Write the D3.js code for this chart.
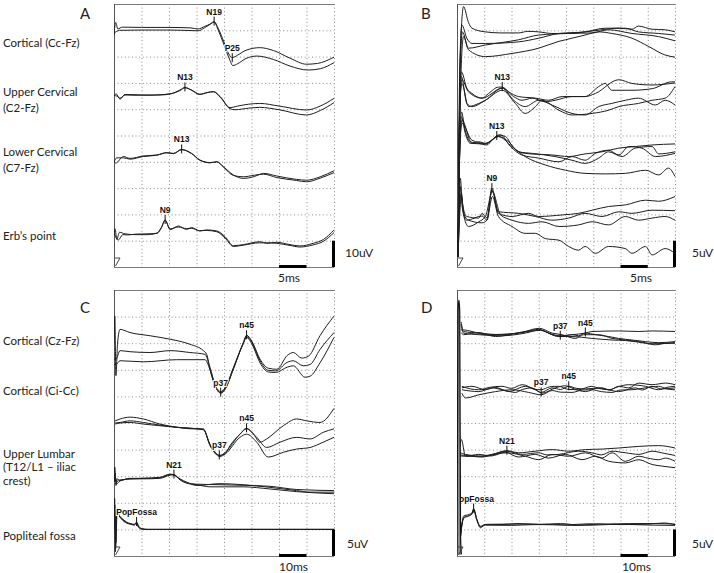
<!DOCTYPE html>
<html><head><meta charset="utf-8">
<script src="https://cdn.jsdelivr.net/npm/d3@7"></script>
<style>body{margin:0;background:#fff}</style>
</head><body>
<svg id="c" width="714" height="573"></svg>
<script>
// ===== DATA (time in ms, amplitude in uV within panel scale) =====
const A_labels = [["Cortical (Cc-Fz)"],["Upper Cervical","(C2-Fz)"],["Lower Cervical","(C7-Fz)"],["Erb’s point"]];
const A_cortical = [
 [[0,88],[0.3,93],[0.7,90.5],[1.5,91.2],[5,91.1],[10,91.1],[14,90.9],[15.3,90.5],[16.5,91.5],[17.5,92.4],[18.2,93.3],[19,90.5],[20,85.5],[21,80.5],[21.5,79.6],[22.5,80.6],[24,82.4],[26.5,83.4],[29,82.3],[32,79.4],[35,77.1],[37,77.4],[40,79.8]],
 [[0,89],[0.4,89.5],[1,90],[5,90.1],[10,90.1],[14,89.9],[15.3,89.8],[16.5,91],[17.5,92.3],[18.2,93.1],[19,89.8],[20,84.5],[21,79],[21.6,76.6],[22.5,77.3],[24,79.3],[26,80.2],[29,78.9],[32,76.4],[35.3,74.9],[37.5,75.4],[40,77.7]]
];
const A_upperCerv = [
 [[0,65],[0.4,65.8],[1.1,63.8],[2,65.6],[4,65.5],[6,65.3],[8.4,65.5],[10.5,66.0],[12,67.3],[12.9,68.3],[14.1,67.2],[15.6,65.6],[17,66.3],[18.1,66.7],[19.3,64.8],[21.1,60.6],[22.5,61.2],[24.5,61.9],[26.5,62.2],[30,61.2],[35,59.7],[37.5,61.2],[40,64.1]],
 [[0,65.2],[0.5,65],[1.1,64.2],[2,65.4],[4,65.3],[6,65.4],[8.4,65.4],[10.5,65.9],[12,67.1],[12.9,68.1],[14.1,67.3],[15.6,65.7],[17,66.4],[18.1,66.6],[19.3,64.6],[21.1,60.2],[22,59.8],[24.5,60.4],[26.5,60.7],[30,59.8],[35,57.8],[37.5,59.5],[40,62.5]]
];
const A_lowerCerv = [
 [[0,40.5],[0.3,39.5],[1.7,42.0],[2.9,41.3],[5.3,42.2],[7.8,42.6],[9.6,43.5],[10.8,43.2],[12.3,44.7],[14.1,43.2],[15.6,40.7],[17.5,39.7],[18.7,40.0],[19.9,38.1],[21.7,35.0],[23.5,33.7],[25.5,34.4],[26.5,35.2],[27.2,35.6],[29.6,34.6],[33.2,33.3],[35,33.0],[37.5,34.3],[40,36.6]],
 [[0,39.8],[0.5,41.5],[1.7,41.5],[2.9,41.0],[5.3,42.0],[7.8,42.5],[9.6,43.4],[10.8,43.1],[12.3,44.6],[14.1,43.1],[15.6,40.6],[17.5,39.6],[18.7,40.0],[19.9,38.0],[21.7,34.8],[23.5,34.3],[25.5,34.9],[26.5,35.2],[27.2,35.3],[29.6,34.0],[33.2,32.9],[35,32.4],[37.5,33.8],[40,35.9]]
];
const A_erb = [
 [[0,12.5],[0.2,14.5],[0.5,10.5],[1,13.2],[2,12.6],[4,12.3],[6,12.3],[7.8,12.9],[8.6,15.0],[9.3,17.9],[10.2,14.2],[11.7,15.6],[13.2,14.3],[14.1,15.0],[15.6,13.7],[16.8,14.1],[18.7,13.7],[20.2,11.5],[21.7,8.1],[23.5,8.5],[26.5,9.6],[27.8,9.0],[29.6,9.4],[32,8.5],[33.8,8.0],[36.2,9.0],[38.1,10.5],[40,14.1]],
 [[0,13],[0.3,11.5],[0.8,10.3],[1.6,12.3],[2.5,12.2],[4,12.5],[6,12.6],[7.8,12.8],[8.6,14.8],[9.3,17.7],[10.2,14.5],[11.7,15.2],[13.2,14.6],[14.1,14.7],[15.6,13.8],[16.8,13.9],[18.7,13.4],[20.2,11.0],[21.7,7.8],[23.5,8.3],[26.5,9.2],[27.8,9.2],[29.6,9.0],[32,8.2],[33.8,7.6],[36.2,8.4],[38.1,9.8],[40,13.1]]
];
const A_markers = [["N19",18.2,93.3],["P25",21.5,79.4],["N13",12.9,68.3],["N13",12.3,44.7],["N9",9.3,17.9]];

const B_ch1 = [
 [[0.2,2],[0.6,40],[1.2,49.5],[2.1,46.5],[2.75,45.4],[5.2,44.7],[8,44.5],[11.3,44.5],[13,44.8],[15,44.7],[17.4,44.4],[19.9,44.4],[23.5,44.7],[26.6,45.1],[29.7,45.4],[32.1,45.2],[33.3,45.8],[35.8,45.2],[38.2,45.1],[40,44.7]],
 [[0.2,2],[0.5,38],[0.9,46.0],[1.8,43.5],[2.75,42.5],[5.2,42.5],[11.3,42.8],[15,43.5],[18.7,44.4],[23.5,44.7],[27.2,45.4],[30.9,45.4],[33.3,44.7],[37,44.4],[40,44.1]],
 [[0.2,2],[0.6,38],[1.0,44.7],[2.1,41.6],[5.2,42.2],[11.3,43.2],[15,44.1],[20.5,44.4],[24.8,44.5],[27.8,45.1],[32.1,44.4],[37,43.8],[40,43.0]],
 [[0.2,2],[0.7,36],[1.2,43.8],[2.1,41.3],[5.2,40.0],[10.1,40.6],[15,41.6],[18.7,42.9],[19.9,43.2],[23.5,44.1],[26,44.7],[28.4,44.4],[32.1,43.5],[35.2,41.9],[38.2,40.3],[40,39.9]]
];
const B_ch2 = [
 [[0.2,2],[0.5,30],[0.8,37.1],[1.8,34.0],[2.75,33.0],[4.6,32.1],[5.8,33.0],[7.6,34.2],[8.3,34.2],[9.5,33.3],[11.3,32.4],[14.4,32.1],[16.8,31.7],[19.3,32.4],[23.5,32.4],[26,34.3],[27.2,34.9],[28.4,33.6],[32.1,33.6],[35.8,33.9],[39.4,35.2],[40,35.2]],
 [[0.2,2],[0.5,30],[0.8,36.2],[1.8,31.1],[2.75,30.5],[5.2,31.7],[8.3,34.0],[10.4,32.4],[11.9,31.7],[13.8,32.1],[16.2,31.4],[18,31.7],[21.1,32.4],[23.5,32.4],[25.4,33.0],[29.7,35.6],[32.1,34.9],[35.8,34.6],[40,35.0]],
 [[0.2,2],[0.5,30],[0.9,35.6],[2.1,33.3],[4.6,32.1],[8.3,34.0],[10.4,31.7],[12.5,30.5],[15,31.7],[17.4,30.8],[21.1,29.2],[23.5,28.9],[26,30.5],[28.4,31.1],[30.9,31.7],[33.3,32.1],[36.4,30.8],[38.2,31.7],[40,30.8]],
 [[0.2,2],[0.5,30],[0.9,34.9],[2.1,30.5],[4,31.1],[5.2,31.7],[8.3,33.6],[10.7,31.1],[12.5,29.2],[14.4,30.5],[15.6,31.7],[18.7,29.8],[21.1,28.9],[24.8,29.2],[27.8,29.8],[29.7,30.5],[33.3,31.1],[35.8,31.7],[38.2,32.1],[40,34.3]]
];
const B_ch3 = [
 [[0.2,2],[0.5,22],[0.8,29.5],[1.5,26],[2.45,23.8],[4,23.5],[5.5,23.2],[6.4,24.1],[7.6,25.1],[8.9,24.8],[10.4,22.6],[12.5,21.6],[17.4,21.3],[20.5,21.0],[23.5,21.5],[26.6,21.9],[29.7,22.6],[32.7,22.9],[35.8,23.2],[40,23.4]],
 [[0.2,2],[0.5,22],[0.8,28.6],[1.5,25.5],[2.45,23.5],[4,23.8],[5.2,23.5],[7.6,24.8],[9.5,23.8],[11.3,21.9],[13.8,21.6],[18,21.0],[21.1,20.3],[23.5,19.7],[26,20.7],[27.8,21.9],[30.3,21.0],[32.7,22.6],[35.8,22.9],[37,21.5],[40,21.9]],
 [[0.2,2],[0.5,22],[0.9,27.9],[2.75,23.5],[5.2,23.4],[8.0,25.1],[9.8,22.9],[11.9,21.3],[15,20.7],[18.7,20.0],[21.1,21.0],[23.5,20.3],[25.4,21.6],[27.8,22.2],[29.7,21.3],[31.5,22.9],[33.9,22.6],[36.4,21.0],[40,21.6]],
 [[0.2,2],[0.5,22],[0.9,27.3],[2.75,24.1],[5.2,23.5],[7.6,24.8],[10.1,22.9],[12.5,21.0],[16.2,19.4],[19.9,18.4],[23.5,17.8],[27.2,17.7],[30.9,17.8],[34.6,18.4],[37,17.5],[38.8,18.8],[40,17.2]]
];
const B_ch4 = [
 [[0.2,2],[0.4,12],[0.6,16.9],[1.0,12],[1.8,9.6],[4,9.3],[4.6,10.2],[5.5,9.3],[6.4,15.0],[7.6,10.2],[10.1,9.6],[13.1,10.2],[15,9.6],[19.3,9.9],[22.3,10.2],[24.8,10.8],[27.8,11.5],[30.9,11.8],[34.6,12.7],[37,12.5],[40,13.4]],
 [[0.2,2],[0.5,12],[0.6,15.3],[1.0,11],[1.8,8.9],[4.6,9.7],[5.5,8.9],[6.4,14.6],[7.6,10.5],[11.3,10.2],[14.4,9.6],[17.4,8.9],[20.5,9.3],[23.5,10.2],[26.6,9.6],[29.7,10.5],[32.1,10.2],[35.8,10.8],[40,10.7]],
 [[0.2,2],[0.5,12],[0.8,14.0],[1.2,10],[2.1,7.7],[4,8.6],[5.2,9.6],[6.5,14.3],[8.0,9.9],[10.1,8.9],[13.1,8.3],[15.6,8.6],[18.7,7.7],[22.3,8.0],[24.8,8.6],[27.8,8.0],[30.9,9.6],[33.3,8.9],[35.8,9.3],[38.2,9.6],[40,8.9]],
 [[0.2,2],[0.5,10],[0.8,13.4],[1.3,10],[2.1,8.9],[4.6,8.4],[5.5,8.9],[6.5,13.4],[7.6,9.6],[10.1,7.7],[12.5,6.4],[14.4,6.4],[16.2,5.4],[18.7,5.1],[20.5,3.9],[22.3,3.2],[23.5,3.9],[25.4,2.6],[27.8,3.9],[30.9,3.5],[32.1,2.6],[34.6,3.9],[35.8,2.3],[38.2,3.5],[40,2.6]]
];
const B_markers = [["N13",8.3,34.2],["N13",7.3,24.9],["N9",6.4,15.0]];

const C_labels = [["Cortical (Cz-Fz)"],["Cortical (Ci-Cc)"],["Upper Lumbar","(T12/L1 – iliac","crest)"],["Popliteal fossa"]];
const C_ch1 = [
 [[0,40],[0.3,45.1],[0.7,33.9],[1.3,40],[2.2,42.6],[5.8,42.0],[13.1,41.4],[20.4,40.75],[27.6,39.8],[32.5,38.6],[33.7,37.9],[34.9,35.1],[36.7,32.0],[38.8,30.7],[40.5,31.5],[43.4,35.1],[47,40.1],[48.2,41.5],[50.1,40.4],[53.1,37.0],[56.1,35.3],[59.2,35.1],[63,37.7],[65.2,38.25],[68.3,37.2],[70.8,37.6],[74.9,41.4],[80,45.1]],
 [[0,37],[0.7,37],[2.2,38.6],[5.8,38.4],[13.1,38.25],[20.4,38.6],[27.6,38.25],[33.1,37.9],[34.9,35.5],[36.7,32.3],[38.8,30.9],[40.5,31.7],[43.4,35.4],[47,40],[48.2,41.25],[50.1,40.2],[53.1,36.7],[56.1,34.9],[58.8,34.8],[63,36.4],[65.2,36.7],[68.8,35.75],[71.3,36.0],[74.9,38.8],[80,42.0]],
 [[0,36],[0.7,36],[2.2,36.7],[10.7,36.5],[22.8,36.9],[33.1,36.9],[34.9,35.0],[36.7,32.1],[38.8,30.6],[40.5,31.4],[43.4,35.2],[47,39.9],[48.2,41.1],[50.1,39.9],[53.1,36.3],[56.1,34.6],[58.8,34.5],[63,35.5],[65.2,35.75],[69.5,33.6],[71.3,33.8],[74.9,36.3],[80,41.1]]
];
const C_ch2 = [
 [[0.4,25.4],[2.2,25.75],[5.8,26.1],[10.7,25.75],[16.7,24.8],[22.8,24.2],[28.8,23.9],[32.5,23.9],[34.9,20.75],[37.3,19.2],[38.5,18.9],[40.5,19.3],[42.2,20.75],[45.8,22.9],[48.2,24.0],[50.7,22.9],[53.1,21.4],[55.5,22.0],[61.6,24.5],[66.4,25.75],[70.1,25.4],[74.9,25.1],[80,27.75]],
 [[0.4,25.0],[2.2,25.1],[5.8,25.4],[10.7,25.1],[16.7,24.6],[22.8,24.2],[32.5,23.75],[34.9,21],[37.3,19.2],[38.5,18.9],[40.5,19.5],[45.8,22.9],[48.2,23.9],[51.9,22.3],[55.5,20.4],[60.4,21.4],[66.4,22.3],[71.3,22.0],[76.1,23.25],[80,23.9]],
 [[0.4,24.8],[2.2,25.0],[5.8,25.1],[10.7,24.8],[22.8,24.2],[32.5,23.75],[34.9,20.9],[37.3,19.0],[38.5,18.7],[40.5,19.2],[45.8,22.3],[48.2,22.9],[51.9,21.4],[56.1,18.6],[61.6,19.5],[66.4,20.1],[71.3,20.4],[76.1,21.4],[80,22.3]]
];
const C_ch3 = [
 [[0,14],[0.3,16.7],[0.7,13.25],[1.2,14.5],[2.2,14.2],[5.8,14.6],[10.7,14.6],[16.7,14.8],[20.4,15.4],[21.8,15.25],[24,14.5],[26.4,13.9],[30.1,13.25],[38.5,13.6],[47,13.4],[56.7,12.9],[66.4,12.3],[71.3,12.0],[80,12.0]],
 [[0,14],[0.4,15.5],[0.8,13.5],[2.2,14.1],[5.8,14.5],[10.7,14.5],[16.7,14.6],[20.4,15.2],[21.8,15.3],[24,14.3],[26.4,13.7],[30.1,13.4],[34.9,13.0],[47,13.0],[56.7,12.6],[66.4,12.1],[80,11.7]],
 [[0,14],[0.5,14.8],[1.0,14.0],[2.2,14.3],[10.7,14.6],[16.7,14.7],[20.4,15.3],[21.8,15.2],[24,14.4],[26.4,13.75],[30.1,13.5],[38.5,13.4],[49.5,13.25],[56.7,13.1],[66.4,12.5],[80,12.3]]
];
const C_ch4 = [
 [[0,5],[0.25,10.8],[0.5,0.8],[0.9,9],[1.6,8],[2.8,7.0],[4.5,6.3],[6,6.0],[7.4,5.9],[8.2,6.4],[8.9,5.5],[10.1,5.1],[12,5.0],[30,5.0],[60,5.0],[80,5.0]],
 [[0,5],[0.3,9.5],[0.6,1.5],[1.0,8.5],[1.8,7.6],[2.8,6.9],[4.5,6.2],[6,6.0],[7.4,5.8],[8.2,6.2],[8.9,5.4],[10.1,5.05],[12,5.0],[80,5.0]],
 [[0,5],[0.35,8.5],[0.7,2.5],[1.1,8],[2,7.4],[2.8,7.1],[4.5,6.4],[6,6.1],[7.4,5.95],[8.2,6.3],[9,5.6],[10.1,5.1],[12,5.0],[80,5.0]]
];
const C_markers = [["p37",38.8,30.7],["n45",48.2,41.5],["p37",38.3,18.9],["n45",48.2,24.0],["N21",21.8,15.3],["PopFossa",8.2,6.4]];

const D_artifact = [[0,0.3],[0.35,46],[0.7,48.1],[1.0,46],[1.3,4],[1.6,0.3]];
const D_ch1 = [
 [[1.5,44],[2.4,42.2],[8,41.9],[16.5,41.6],[25.1,42.2],[30,42.6],[33.6,41.9],[37.9,41.4],[42.2,41.6],[47.1,41.9],[49.5,42.2],[59.3,42.3],[66.7,42.2],[71.6,42.3],[80,42.2]],
 [[1.5,43.5],[2.4,41.9],[8,41.6],[16.5,41.4],[25.1,41.9],[30.6,42.5],[34.9,41.6],[38.5,41.25],[42.2,41.6],[44.6,41.4],[47.1,41.9],[50.8,41.6],[55.7,41.25],[59.3,40.9],[64.2,40.6],[69.1,40.3],[74,40.1],[80,40.3]],
 [[1.5,42],[2.4,41.6],[8,42.0],[14.1,41.25],[22.6,41.9],[30.6,42.4],[37.3,41.25],[42.2,41.25],[49.5,40.9],[56.9,40.6],[61.8,40.5],[69.1,40.0],[72.8,39.7],[76.5,40.0],[80,40.1]],
 [[1.5,42.5],[2.4,42.5],[5.5,42.2],[10.4,41.6],[22.6,41.9],[30.2,42.8],[34.9,41.9],[38.5,41.6],[43.4,40.9],[46.5,41.6],[52,41.6],[56.9,40.9],[61.8,40.6],[66.7,40.3],[71.6,39.9],[80,40.0]]
];
const D_ch2 = [
 [[1.8,31.9],[5,31.4],[8,31.25],[12,31.7],[16.5,31.9],[20,31.5],[23.9,32.2],[28.7,31.25],[30.9,30.75],[34.9,31.6],[38,31.3],[41,31.9],[44,31.5],[47.1,31.4],[53.2,31.6],[56,31.2],[59.3,31.9],[63,31.6],[66.7,32.5],[71.6,32.2],[76.5,32.5],[80,32.2]],
 [[1.8,31.6],[5.5,31.9],[10.4,31.25],[14,31.7],[19,30.9],[25.1,31.9],[28,31.4],[30.9,31.25],[34,31.8],[37.3,31.9],[41,31.3],[44.6,31.25],[49.5,31.9],[52,31.5],[55.7,31.25],[59,31.8],[63,32.2],[69.1,31.9],[74,31.25],[77,31.7],[80,31.9]],
 [[1.8,31.25],[8,30.9],[12.8,31.6],[17,31.2],[21.4,30.75],[24,31.3],[27.5,31.6],[31.2,30.6],[36.1,31.6],[39.8,32.0],[43,31.4],[47.1,30.9],[52,31.6],[56,31.2],[59.3,30.9],[65.4,31.6],[68,31.2],[71.6,31.9],[75,31.4],[80,31.6]],
 [[1.8,30.6],[3.1,29.7],[8,30.3],[14.1,30.9],[20.2,31.25],[26.3,30.75],[30.9,30.3],[34.9,31.1],[38,30.8],[42.2,30.75],[46,31.2],[49.5,31.25],[53,30.9],[56.9,30.75],[60,31.2],[64.2,31.25],[69.1,31.6],[74,31.9],[77,31.4],[80,31.25]]
];
const D_ch3 = [
 [[0.6,19],[1.6,21.9],[3.1,18.75],[8,18.75],[12.8,19.1],[18.3,19.8],[22.6,19.4],[28.7,19.7],[34.9,20.0],[41,19.7],[47.1,20.0],[53.2,20.1],[59.3,20.3],[66.7,20.6],[74,20.75],[80,20.3]],
 [[0.8,19.5],[3.1,19.1],[10.4,18.75],[14,19.2],[18.3,19.7],[23.9,19.1],[30,19.4],[33,19.0],[37.3,19.1],[44.6,19.7],[49.5,19.4],[53,19.0],[56.9,19.7],[61.8,19.4],[66.7,19.1],[71.6,19.7],[76,19.3],[80,18.9]],
 [[1,19],[3.1,18.9],[9.2,18.6],[13,19.0],[18.3,19.4],[25.1,18.75],[30,18.1],[34.9,19.1],[41,18.75],[47.1,19.4],[53.2,18.4],[56.9,19.4],[61.8,17.8],[66.7,18.75],[70,18.4],[74,18.1],[76.5,18.4],[80,17.8]],
 [[1.2,18.8],[3.1,18.75],[8,19.1],[12.5,18.8],[17.7,19.5],[22.6,18.6],[28.7,19.1],[33.6,18.4],[39.8,19.1],[45.9,18.1],[50.8,18.75],[55.7,17.8],[61.8,17.5],[66.7,18.1],[71.6,17.2],[75.2,16.9],[80,16.6]]
];
const D_ch4 = [
 [[0.8,1.25],[1.6,5],[2.4,7.5],[4.3,7.8],[5.5,8.1],[6.1,8.9],[7.3,6.9],[8.6,5.3],[10.4,5.9],[16.5,5.9],[22,6.1],[30,5.95],[38,6.1],[45,5.8],[52,6.0],[60,5.9],[70,6.0],[76,6.2],[80,5.9]],
 [[0.9,1.5],[1.7,5.5],[2.6,7.3],[4.3,7.6],[5.5,8.0],[6.1,8.7],[7.3,6.7],[8.6,5.5],[10.4,5.8],[20,5.75],[28,5.9],[35,5.9],[42,5.75],[50,5.8],[58,5.95],[65,5.9],[72,5.8],[80,5.75]],
 [[1.0,2],[1.8,6],[2.7,7.2],[4.3,7.5],[5.5,7.9],[6.1,8.6],[7.3,6.8],[8.6,5.6],[10.4,5.95],[18,6.0],[25,6.0],[33,5.9],[40,5.85],[48,6.05],[55,6.0],[63,6.1],[72,6.1],[80,6.0]]
];
const D_markers = [["p37",37.9,41.4],["n45",47.1,42.0],["p37",30.9,30.75],["n45",41.0,31.9],["N21",18.3,19.8],["PopFossa",6.1,8.9]];

const panelLetters = ["A","B","C","D"];
const timeBars = [[30,35,"5ms"],[30,35,"5ms"],[60,70,"10ms"],[60,70,"10ms"]];
const voltBars = [[0,10,"10uV"],[0,5,"5uV"],[0,5,"5uV"],[0,5,"5uV"]];

// ===== LAYOUT =====
const svg = d3.select("#c");
const panels = [
 {xr:[114,334], yr:[267,4], tMax:40, vMax:100, tStep:5, vStep:10, chans:[A_cortical,A_upperCerv,A_lowerCerv,A_erb], markers:A_markers,
  letter:[80,18.5], tText:[278,282], vText:[345,257], labels:A_labels, labelY:[[47],[96,112],[156,172],[240]]},
 {xr:[457,675], yr:[267,4], tMax:40, vMax:50, tStep:5, vStep:5, chans:[B_ch1,B_ch2,B_ch3,B_ch4], markers:B_markers,
  letter:[421,18.5], tText:[630,282], vText:[692,257]},
 {xr:[114,334], yr:[556,290], tMax:80, vMax:50, tStep:10, vStep:5, chans:[C_ch1,C_ch2,C_ch3,C_ch4], markers:C_markers,
  letter:[80,312.5], tText:[279,571], vText:[347,548], labels:C_labels, labelY:[[345],[395],[458,471,485],[540]]},
 {xr:[457,675], yr:[556,290], tMax:80, vMax:50, tStep:10, vStep:5, chans:[D_ch1,D_ch2,D_ch3,D_ch4], markers:D_markers, artifact:D_artifact,
  letter:[421,312.5], tText:[622,571], vText:[692,548]}
];
const FONT = "Lato, 'Open Sans', sans-serif";

panels.forEach((p,i) => {
  const x = d3.scaleLinear().domain([0,p.tMax]).range(p.xr);
  const y = d3.scaleLinear().domain([0,p.vMax]).range(p.yr);
  const g = svg.append("g");
  const h = p.yr[0]-p.yr[1], w = p.xr[1]-p.xr[0];
  const clipId = "clip"+i;
  svg.append("clipPath").attr("id",clipId).append("rect")
    .attr("x",p.xr[0]).attr("y",p.yr[1]-1).attr("width",w+1).attr("height",h+2);

  // grid via axes
  g.append("g").attr("transform",`translate(0,${p.yr[1]})`)
    .call(d3.axisBottom(x).tickValues(d3.range(p.tStep,p.tMax+0.01,p.tStep)).tickSize(h).tickFormat(""))
    .call(s=>{s.select(".domain").remove();s.selectAll("line").attr("stroke","#8c8c8c").attr("stroke-dasharray","1,2.6");});
  g.append("g").attr("transform",`translate(${p.xr[0]},0)`)
    .call(d3.axisLeft(y).tickValues(d3.range(p.vStep,p.vMax-0.01,p.vStep)).tickSize(-w).tickFormat(""))
    .call(s=>{s.select(".domain").remove();s.selectAll("line").attr("stroke","#8c8c8c").attr("stroke-dasharray","1,2.6");});
  // borders
  const bc="#7a7a7a";
  g.append("line").attr("x1",p.xr[0]).attr("x2",p.xr[1]).attr("y1",p.yr[1]+0.5).attr("y2",p.yr[1]+0.5).attr("stroke",bc);
  g.append("line").attr("x1",p.xr[0]).attr("x2",p.xr[1]).attr("y1",p.yr[0]+0.5).attr("y2",p.yr[0]+0.5).attr("stroke",bc);
  g.append("line").attr("x1",p.xr[0]+0.5).attr("x2",p.xr[0]+0.5).attr("y1",p.yr[1]).attr("y2",p.yr[0]).attr("stroke","#555");

  const plot = g.append("g").attr("clip-path",`url(#${clipId})`);
  const line = d3.line().x(d=>x(d[0])).y(d=>y(d[1])).curve(d3.curveMonotoneX);

  p.chans.forEach(ch => ch.forEach(tr => {
    plot.append("path").attr("d",line(tr)).attr("fill","none").attr("stroke","#1e1e1e").attr("stroke-width",1);
  }));

  // trigger glyph
  g.append("path").attr("d",`M${p.xr[0]+1},${p.yr[0]-9} L${p.xr[0]+6},${p.yr[0]-9} L${p.xr[0]+1.5},${p.yr[0]-1}`)
    .attr("fill","none").attr("stroke","#333").attr("stroke-width",0.9);

  // markers
  p.markers.forEach(m => {
    const mx = x(m[1]), my = y(m[2]);
    plot.append("text").attr("x",mx).attr("y",my-7).attr("text-anchor","middle")
      .attr("font-family","'Liberation Sans', Arial, sans-serif").attr("font-weight","bold").attr("font-size",8.5)
      .attr("fill","#111").attr("stroke","#fff").attr("stroke-width",2).attr("paint-order","stroke").text(m[0]);
    plot.append("line").attr("x1",mx).attr("x2",mx).attr("y1",my-5).attr("y2",my+4).attr("stroke","#111").attr("stroke-width",1);
  });

  if (p.artifact) {
    plot.append("path").attr("d",line(p.artifact)).attr("fill","#8a8a8a").attr("stroke","#111").attr("stroke-width",1.2);
  }

  // scale bars
  const tb = timeBars[i], vb = voltBars[i];
  g.append("line").attr("x1",x(tb[0])).attr("x2",x(tb[1])).attr("y1",p.yr[0]-0.5).attr("y2",p.yr[0]-0.5).attr("stroke","#000").attr("stroke-width",3);
  g.append("line").attr("x1",p.xr[1]-0.5).attr("x2",p.xr[1]-0.5).attr("y1",y(vb[0])).attr("y2",y(vb[1])).attr("stroke","#000").attr("stroke-width",3);
  svg.append("text").attr("x",p.tText[0]).attr("y",p.tText[1]).attr("font-family",FONT).attr("font-size",12).attr("fill","#222").text(tb[2]);
  svg.append("text").attr("x",p.vText[0]).attr("y",p.vText[1]).attr("font-family",FONT).attr("font-size",12).attr("fill","#222").text(vb[2]);

  // panel letter
  svg.append("text").attr("x",p.letter[0]).attr("y",p.letter[1]).attr("font-family",FONT).attr("font-size",15).attr("fill","#222").text(panelLetters[i]);

  // channel labels
  if (p.labels) {
    p.labels.forEach((lines,k) => lines.forEach((s,j) => {
      svg.append("text").attr("x",3).attr("y",p.labelY[k][j]).attr("font-family",FONT).attr("font-size",11.5).attr("fill","#222").text(s);
    }));
  }
});
</script>
</body></html>
